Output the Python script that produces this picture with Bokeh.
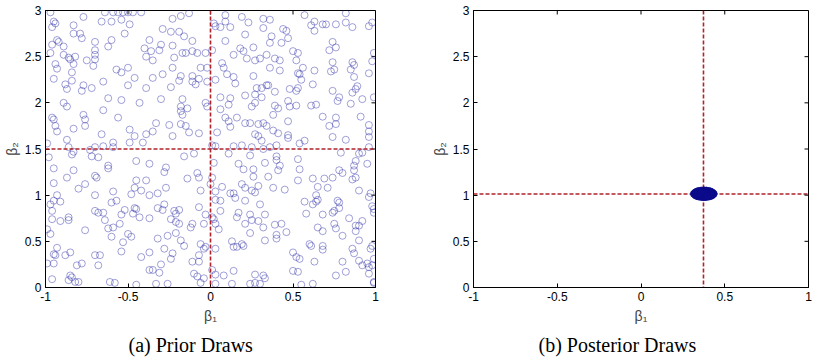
import math
from bokeh.plotting import figure
from bokeh.models import Range1d, FixedTicker, Span, Title
from bokeh.layouts import row
from bokeh.embed import file_html
from bokeh.resources import INLINE

# ---------------- data ----------------
x_ticks = [-1, -0.5, 0, 0.5, 1]
x_tick_labels = ["-1", "-0.5", "0", "0.5", "1"]
y_ticks = [0, 0.5, 1, 1.5, 2, 2.5, 3]
y_tick_labels = ["0", "0.5", "1", "1.5", "2", "2.5", "3"]

# (a) prior draws, beta1 / beta2 (read region by region)
prior_b1 = [
    -0.97, -0.95, -0.96, -0.94, -0.83, -0.77, -0.64, -0.59, -0.56, -0.53, -0.50, -0.47, -0.42, -0.66, -0.60, -0.54,
    -0.49, -0.83, -0.79, -0.78, -0.52, -0.93, -0.92, -0.70, -0.60, -0.62, -0.96, -0.89, -0.70, -0.70, -0.70, -0.40,
    -0.97, -0.89, -0.86, -0.85, -0.82, -0.83, -0.75, -0.71, -0.39, -0.94, -0.93, -0.84, -0.57, -0.54, -0.50, -0.95,
    -0.88, -0.84, -0.65, -0.50, -0.46, -0.39, -0.87, -0.77, -0.72, -0.78, -0.62, -0.54, -0.89, -0.43,
    -0.23, -0.18, -0.13, -0.29, -0.24, -0.19, -0.16, -0.11, 0.02, 0.03, 0.06, 0.09, 0.09, 0.12, 0.19, 0.23,
    0.32, 0.32, 0.21, 0.09, 0.26, 0.18, 0.20, 0.22, 0.27, 0.30, 0.34, 0.14, -0.37, -0.36, -0.30, -0.31,
    -0.23, -0.17, -0.15, -0.11, -0.08, -0.03, 0.01, -0.22, -0.35, -0.23, -0.06, -0.02, 0.07, 0.08, 0.10, 0.14,
    0.15, 0.03, 0.26, 0.31, 0.28, 0.34, -0.35, -0.29, -0.18, -0.11, -0.07, -0.11, -0.09, -0.02, -0.24, -0.19,
    -0.30, -0.17, -0.03, 0.06, 0.12, 0.21, 0.27, 0.31,
    0.36, 0.57, 0.63, 0.61, 0.63, 0.68, 0.70, 0.76, 0.82, 0.86, 0.82, 0.96, 0.98, 0.37, 0.44, 0.46,
    0.47, 0.43, 0.36, 0.74, 0.76, 0.72, 0.50, 0.53, 0.52, 0.39, 0.42, 0.36, 0.42, 0.56, 0.53, 0.54,
    0.55, 0.63, 0.73, 0.74, 0.75, 0.86, 0.87, 0.85, 0.87, 0.96, 0.99, 0.98, 0.35, 0.39, 0.48, 0.52,
    0.53, 0.62, 0.74, 0.78, 0.77, 0.86, 0.89, 0.88, 0.92, 0.99, 0.47,
    -0.87, -0.65, -0.77, -0.76, -0.76, -0.96, -0.95, -0.94, -0.93, -0.83, -0.56, -0.66, -0.49, -0.46, -0.39, -0.87,
    -0.86, -0.83, -0.84, -0.70, -0.65, -0.59, -0.59, -0.49, -0.41, -0.99, -0.98, -0.73, -0.72, -0.68, -0.45, -0.37,
    -0.95, -0.83, -0.62, -0.62, -0.70, -0.69, -0.87, -0.95, -0.76, -0.80, -0.59, -0.46, -0.45, -0.42, -0.39, -0.93,
    -0.70, -0.48, -0.37,
    -0.18, -0.17, -0.18, -0.14, -0.02, 0.06, 0.11, 0.25, 0.27, 0.09, 0.11, 0.12, 0.16, 0.21, 0.24, 0.29,
    0.32, 0.34, -0.33, -0.25, -0.18, -0.15, -0.13, -0.07, 0.04, 0.27, 0.29, 0.31, -0.23, -0.35, 0.01, 0.03,
    0.14, 0.19, 0.25, 0.32, 0.24, 0.11, -0.16, -0.10, 0.02, 0.17, 0.20, 0.26, 0.33, -0.27, -0.28, -0.08,
    -0.07, -0.14, 0.01, 0.26, 0.29, 0.19, 0.21, 0.25, 0.27, 0.12, 0.14, 0.07, 0.03, -0.00, -0.06, -0.27,
    -0.32,
    0.39, 0.41, 0.48, 0.52, 0.61, 0.64, 0.85, 0.68, 0.76, 0.72, 0.76, 0.91, 0.96, 0.96, 0.96, 0.38,
    0.47, 0.38, 0.41, 0.47, 0.47, 0.54, 0.57, 0.74, 0.82, 0.96, 0.40, 0.36, 0.40, 0.40, 0.42, 0.41,
    0.53, 0.54, 0.35, 0.53, 0.62, 0.65, 0.69, 0.74, 0.78, 0.80, 0.88, 0.87, 0.87, 0.95, 0.79, 0.90,
    0.92, 0.86, 0.88, 0.38, 0.45, 0.71, 0.90, 0.97, 0.64,
    -0.97, -0.95, -0.91, -0.96, -0.96, -0.91, -0.86, -0.86, -0.60, -0.57, -0.70, -0.68, -0.65, -0.64, -0.62, -0.59,
    -0.55, -0.54, -0.52, -0.47, -0.45, -0.43, -0.46, -0.37, -0.76, -0.99, -0.97, -0.60, -0.50, -0.48, -0.53, -0.54,
    -0.93, -0.95, -0.94, -0.88, -0.85, -0.70, -0.67, -0.68, -0.81, -0.78, -0.99, -0.95, -0.42, -0.37, -0.37, -0.85,
    -0.84, -0.86, -0.82, -0.80, -0.96, -0.61, -0.58, -0.45,
    0.03, 0.06, 0.15, 0.21, 0.30, -0.32, -0.28, -0.29, -0.22, -0.19, -0.21, -0.24, -0.21, -0.19, -0.11, -0.12,
    -0.07, -0.03, -0.04, 0.01, 0.02, 0.03, 0.05, 0.06, 0.17, 0.16, 0.24, 0.25, 0.21, 0.29, 0.32, 0.33,
    0.24, -0.32, -0.26, -0.21, -0.18, -0.16, -0.28, -0.06, -0.03, -0.04, 0.03, 0.13, 0.14, 0.19, 0.20, 0.16,
    0.33, -0.07, -0.23, -0.24, -0.11, -0.07, -0.30, -0.35, -0.31, 0.01, -0.10, -0.08, -0.04, 0.03, 0.08, 0.14,
    0.27, 0.32, 0.33,
    0.57, 0.62, 0.64, 0.65, 0.77, 0.78, 0.78, 0.75, 0.74, 0.68, 0.58, 0.39, 0.43, 0.40, 0.40, 0.46,
    0.65, 0.68, 0.75, 0.76, 0.80, 0.84, 0.88, 0.88, 0.90, 0.92, 0.90, 0.98, 0.99, 0.96, 0.99, 0.60,
    0.61, 0.68, 0.68, 0.86, 0.87, 0.97, 0.98, 0.50, 0.52, 0.54, 0.63, 0.80, 0.90, 0.92, 0.95, 0.96,
    0.98, 0.99, 0.50, 0.53, 0.82, 0.76, 0.96, 0.99,
    -0.33, -0.26, -0.06, 0.03, 0.13, 0.24, 0.27, 0.30, 0.55, 0.62, 0.99,
]
prior_b2 = [
    2.98, 2.88, 2.82, 2.86, 2.84, 2.93, 2.98, 2.98, 2.98, 2.98, 2.98, 2.98, 2.98, 2.88, 2.88, 2.90,
    2.85, 2.75, 2.75, 2.70, 2.75, 2.68, 2.66, 2.66, 2.68, 2.61, 2.63, 2.61, 2.57, 2.52, 2.47, 2.59,
    2.54, 2.52, 2.49, 2.47, 2.50, 2.42, 2.46, 2.40, 2.50, 2.42, 2.37, 2.33, 2.36, 2.33, 2.38, 2.26,
    2.20, 2.24, 2.23, 2.19, 2.27, 2.16, 2.15, 2.19, 2.16, 2.13, 2.05, 2.03, 2.00, 2.00,
    2.91, 2.94, 2.97, 2.80, 2.77, 2.77, 2.72, 2.67, 2.86, 2.83, 2.82, 2.88, 2.95, 2.82, 2.93, 2.87,
    2.91, 2.81, 2.74, 2.67, 2.60, 2.59, 2.56, 2.48, 2.46, 2.48, 2.52, 2.52, 2.68, 2.56, 2.63, 2.57,
    2.62, 2.54, 2.54, 2.56, 2.54, 2.54, 2.57, 2.49, 2.46, 2.38, 2.38, 2.38, 2.43, 2.38, 2.31, 2.28,
    2.21, 2.25, 2.29, 2.16, 2.16, 2.19, 2.27, 2.31, 2.29, 2.29, 2.26, 2.23, 2.20, 2.23, 2.17, 2.24,
    2.04, 2.04, 2.00, 2.06, 2.05, 2.08, 2.09, 2.06,
    2.90, 2.95, 2.88, 2.84, 2.78, 2.85, 2.85, 2.85, 2.87, 2.82, 2.97, 2.83, 2.87, 2.72, 2.80, 2.78,
    2.70, 2.65, 2.65, 2.66, 2.60, 2.57, 2.56, 2.54, 2.46, 2.48, 2.46, 2.38, 2.35, 2.38, 2.32, 2.31,
    2.25, 2.35, 2.34, 2.44, 2.36, 2.44, 2.41, 2.36, 2.28, 2.32, 2.54, 2.45, 2.19, 2.12, 2.15, 2.13,
    2.16, 2.20, 2.13, 2.06, 2.02, 2.11, 2.18, 2.15, 2.04, 2.06, 2.02,
    1.96, 1.92, 1.87, 1.82, 1.75, 1.84, 1.82, 1.75, 1.69, 1.72, 1.84, 1.66, 1.71, 1.64, 1.66, 1.60,
    1.52, 1.47, 1.44, 1.52, 1.53, 1.57, 1.52, 1.57, 1.57, 1.56, 1.41, 1.49, 1.42, 1.41, 1.37, 1.34,
    1.29, 1.27, 1.32, 1.29, 1.21, 1.19, 1.19, 1.13, 1.12, 1.07, 1.04, 1.08, 1.16, 1.05, 1.16, 1.00,
    1.00, 1.01, 1.00,
    1.96, 1.87, 1.91, 1.94, 1.96, 1.93, 1.98, 1.96, 2.00, 1.84, 1.80, 1.74, 1.84, 1.78, 1.78, 1.77,
    1.78, 1.75, 1.78, 1.76, 1.77, 1.75, 1.68, 1.67, 1.68, 1.66, 1.64, 1.59, 1.64, 1.69, 1.54, 1.53,
    1.53, 1.54, 1.52, 1.50, 1.43, 1.45, 1.42, 1.45, 1.35, 1.34, 1.28, 1.28, 1.35, 1.30, 1.25, 1.24,
    1.19, 1.18, 1.19, 1.20, 1.10, 1.12, 1.08, 1.05, 1.03, 1.02, 1.02, 1.09, 1.04, 1.12, 1.05, 1.08,
    1.02,
    1.97, 1.94, 1.96, 1.97, 1.97, 1.98, 1.99, 1.85, 1.84, 1.75, 1.77, 1.85, 1.76, 1.69, 1.63, 1.87,
    1.80, 1.70, 1.67, 1.65, 1.62, 1.56, 1.59, 1.63, 1.60, 1.52, 1.54, 1.52, 1.42, 1.38, 1.32, 1.27,
    1.39, 1.28, 1.20, 1.16, 1.18, 1.09, 1.18, 1.19, 1.27, 1.24, 1.37, 1.32, 1.27, 1.34, 1.46, 1.45,
    1.46, 1.17, 1.19, 1.08, 1.06, 1.08, 1.05, 1.02, 1.00,
    0.90, 0.94, 0.93, 0.83, 0.74, 0.72, 0.76, 0.73, 0.92, 0.94, 0.83, 0.81, 0.81, 0.73, 0.64, 0.65,
    0.69, 0.79, 0.84, 0.80, 0.85, 0.76, 0.86, 0.75, 0.62, 0.63, 0.58, 0.55, 0.58, 0.55, 0.49, 0.39,
    0.43, 0.36, 0.35, 0.35, 0.38, 0.35, 0.35, 0.24, 0.24, 0.26, 0.26, 0.26, 0.33, 0.38, 0.19, 0.13,
    0.11, 0.08, 0.06, 0.06, 0.09, 0.06, 0.05, 0.03,
    0.95, 0.94, 0.97, 0.94, 0.90, 0.86, 0.90, 0.84, 0.83, 0.84, 0.80, 0.74, 0.71, 0.69, 0.69, 0.65,
    0.87, 0.79, 0.69, 0.76, 0.74, 0.69, 0.63, 0.83, 0.81, 0.76, 0.79, 0.73, 0.69, 0.72, 0.65, 0.79,
    0.59, 0.53, 0.56, 0.59, 0.51, 0.45, 0.42, 0.47, 0.44, 0.42, 0.42, 0.50, 0.44, 0.47, 0.45, 0.44,
    0.51, 0.35, 0.37, 0.31, 0.28, 0.28, 0.25, 0.19, 0.16, 0.19, 0.15, 0.12, 0.10, 0.14, 0.13, 0.18,
    0.14, 0.13, 0.10,
    0.93, 0.90, 0.93, 0.95, 0.94, 0.92, 0.86, 0.83, 0.81, 0.79, 0.80, 0.68, 0.69, 0.57, 0.53, 0.60,
    0.65, 0.61, 0.69, 0.64, 0.56, 0.75, 0.67, 0.61, 0.67, 0.72, 0.51, 0.88, 0.81, 0.98, 0.85, 0.47,
    0.45, 0.45, 0.41, 0.42, 0.37, 0.42, 0.45, 0.38, 0.33, 0.31, 0.28, 0.28, 0.29, 0.24, 0.26, 0.22,
    0.24, 0.31, 0.18, 0.17, 0.17, 0.13, 0.15, 0.06,
    0.04, 0.04, 0.05, 0.04, 0.04, 0.04, 0.05, 0.04, 0.03, 0.04, 0.05,
]

# (b) posterior draws: a tight cluster
post_b1 = [0.316, 0.325, 0.325, 0.335, 0.335, 0.345, 0.345, 0.36, 0.36, 0.375, 0.375, 0.39, 0.39,
           0.405, 0.405, 0.415, 0.415, 0.425, 0.425, 0.434, 0.34, 0.355, 0.355, 0.37, 0.385, 0.385,
           0.40, 0.415, 0.36, 0.375, 0.375, 0.39, 0.33, 0.35, 0.42, 0.365, 0.395]
post_b2 = [1.015, 1.00, 1.03, 0.99, 1.04, 0.985, 1.045, 0.98, 1.05, 0.978, 1.052, 0.98, 1.05,
           0.985, 1.045, 0.99, 1.04, 1.00, 1.03, 1.015, 1.015, 1.00, 1.03, 1.015, 1.00, 1.03,
           1.015, 1.015, 1.015, 0.995, 1.035, 1.015, 1.015, 1.015, 1.015, 1.04, 0.99]

# reference (dashed) lines: [beta1, beta2]
prior_ref = [0.0, 1.5]
post_ref = [0.373, 1.013]

captions = ["(a) Prior Draws", "(b) Posterior Draws"]

TICK_FONT = "Liberation Sans"
RED = "#b0232a"


def style_axis(ax, ticks, labels):
    ax.ticker = FixedTicker(ticks=ticks)
    ax.major_label_overrides = {t: l for t, l in zip(ticks, labels)}
    ax.major_tick_in = 4
    ax.major_tick_out = 0
    ax.minor_tick_line_color = None
    ax.major_tick_line_color = "black"
    ax.axis_line_color = "black"
    ax.axis_line_width = 1
    ax.major_label_text_font = TICK_FONT
    ax.major_label_text_color = "black"
    ax.major_label_text_font_size = "12px"
    ax.major_label_standoff = 4


def make_panel(xs, ys, ref, caption, left_border, right_border, caption_offset, posterior):
    p = figure(width=408, height=360, output_backend="svg", toolbar_location=None,
               x_range=Range1d(-1, 1), y_range=Range1d(0, 3),
               min_border_left=left_border, min_border_right=right_border,
               min_border_top=10, min_border_bottom=73)
    p.grid.visible = False
    p.outline_line_color = "black"
    p.outline_line_width = 1
    p.background_fill_color = "white"
    p.border_fill_color = "white"

    style_axis(p.xaxis[0], x_ticks, x_tick_labels)
    style_axis(p.yaxis[0], y_ticks, y_tick_labels)
    p.xaxis[0].axis_label = "β₁"
    p.yaxis[0].axis_label = "β₂"
    for ax in (p.xaxis[0], p.yaxis[0]):
        ax.axis_label_text_font = TICK_FONT
        ax.axis_label_text_font_size = "14px"
        ax.axis_label_text_font_style = "normal"
    p.xaxis[0].axis_label_standoff = 4
    p.yaxis[0].axis_label_standoff = 2

    # mirrored inward ticks on the top and right edges of the box
    p.ray(x=x_ticks, y=[y_ticks[-1]] * len(x_ticks), length=4, length_units="screen",
          angle=-math.pi / 2, line_color="black", line_width=1)
    p.ray(x=[x_ticks[-1]] * len(y_ticks), y=y_ticks, length=4, length_units="screen",
          angle=math.pi, line_color="black", line_width=1)

    lvl = "underlay" if posterior else "annotation"
    p.add_layout(Span(location=ref[0], dimension="height", line_color=RED,
                      line_dash="4 2", line_width=1.6, level=lvl))
    p.add_layout(Span(location=ref[1], dimension="width", line_color=RED,
                      line_dash="4 2", line_width=1.6, level=lvl))

    n = min(len(xs), len(ys))
    if posterior:
        p.scatter(xs[:n], ys[:n], marker="circle", size=7, line_color="#0a0a8a",
                  fill_color="#0a0a8a", line_width=0.8)
    else:
        p.scatter(xs[:n], ys[:n], marker="circle", size=7, line_color="#2c2ca8",
                  line_alpha=0.75, fill_color=None, line_width=0.6)

    p.add_layout(Title(text=caption, align="left", offset=caption_offset,
                       text_font="Liberation Serif",
                       text_font_size="20px", text_font_style="normal",
                       text_color="black", standoff=10), "below")
    return p


p1 = make_panel(prior_b1, prior_b2, prior_ref, captions[0], 40, 33, 83, False)
p2 = make_panel(post_b1, post_b2, post_ref, captions[1], 65, 8, 65, True)

layout = row(p1, p2)
open("out.html", "w").write(file_html(layout, INLINE))
